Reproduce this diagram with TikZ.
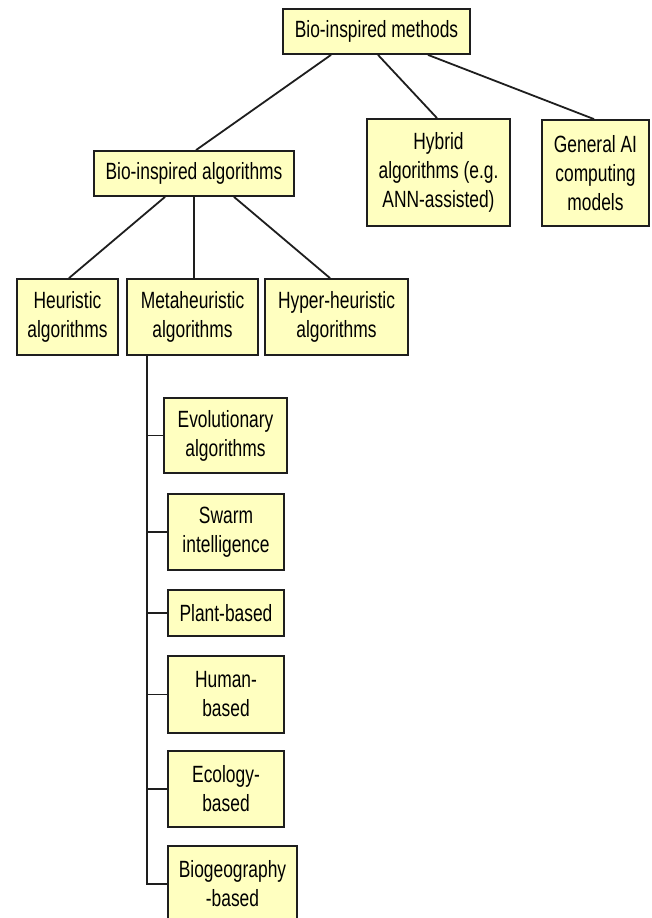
\documentclass[tikz,border=0pt]{standalone}
\usepackage{fontspec}
\setmainfont{Liberation Sans}[FakeStretch=0.74]
\definecolor{boxfill}{RGB}{255,255,192}
\definecolor{edge}{RGB}{30,30,30}
\begin{document}
\begin{tikzpicture}[x=1pt,y=-1pt,
  box/.style={draw=edge,line width=1.8pt,fill=boxfill,rectangle,align=center,inner sep=0pt,
    font=\fontsize{23.5pt}{29pt}\selectfont},
  conn/.style={draw=edge,line width=1.8pt}]
\useasboundingbox (0,0) rectangle (652,918);
\clip (0,0) rectangle (652,918);
\node[box,minimum width=187pt,minimum height=45pt] (top) at (376.5,31.5) {Bio-inspired methods};
\node[box,minimum width=200pt,minimum height=45pt] (bioalg) at (194,173.5) {Bio-inspired algorithms};
\node[box,minimum width=143pt,minimum height=107pt] (hybrid) at (438.5,172.5) {Hybrid\\algorithms (e.g.\\ANN-assisted)};
\node[box,minimum width=107pt,minimum height=106pt] (general) at (595.5,173) {General AI\\computing\\models};
\node[box,minimum width=101pt,minimum height=76pt] (heur) at (67.5,317) {Heuristic\\algorithms};
\node[box,minimum width=131pt,minimum height=76pt] (meta) at (192.5,317) {Metaheuristic\\algorithms};
\node[box,minimum width=143pt,minimum height=76pt] (hyper) at (336.5,317) {Hyper-heuristic\\algorithms};
\node[box,minimum width=123pt,minimum height=75pt] (evo) at (225.5,435.5) {Evolutionary\\algorithms};
\node[box,minimum width=116pt,minimum height=76pt] (swarm) at (226,532) {Swarm\\intelligence};
\node[box,minimum width=116pt,minimum height=46pt] (plant) at (226,613) {Plant-based};
\node[box,minimum width=116pt,minimum height=77pt] (human) at (226,694.5) {Human-\\based};
\node[box,minimum width=116pt,minimum height=76pt] (eco) at (226,789) {Ecology-\\based};
\node[box,minimum width=129pt,minimum height=76pt] (bio) at (232.5,884) {Biogeography\\-based};
% connectors
\draw[conn] ([xshift=-45.5pt]top.south) -- ([xshift=2pt]bioalg.north);
\draw[conn] ([xshift=1.5pt]top.south) -- ([xshift=-1.5pt]hybrid.north);
\draw[conn] ([xshift=51.5pt]top.south) -- ([xshift=-1.5pt]general.north);
\draw[conn] ([xshift=-29pt]bioalg.south) -- ([xshift=1.5pt]heur.north);
\draw[conn] (bioalg.south) -- ([xshift=1.5pt]meta.north);
\draw[conn] ([xshift=40pt]bioalg.south) -- ([xshift=-6.5pt]hyper.north);
\coordinate (spine) at ([xshift=21pt]meta.south west);
\draw[conn] (spine) |- (bio.west);
\foreach \n in {evo,swarm,plant,human,eco}{
  \draw[conn] (spine |- \n.west) -- (\n.west);
}
\end{tikzpicture}
\end{document}
